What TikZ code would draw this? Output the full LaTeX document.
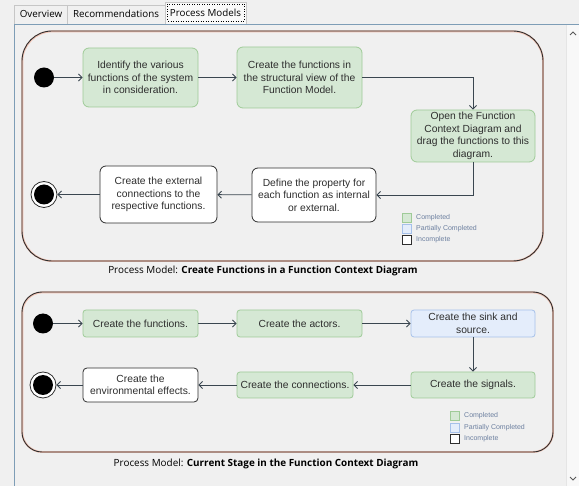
\documentclass[tikz,border=0pt]{standalone}
\usepackage{fontspec}
\setmainfont{Liberation Sans}
\newfontfamily\uifont{Open Sans}
\usetikzlibrary{arrows.meta}
\definecolor{bg}{HTML}{F0F0F0}
\definecolor{gfill}{HTML}{D5E8D4}
\definecolor{gline}{HTML}{9FCB98}
\definecolor{bfill}{HTML}{E4EDFB}
\definecolor{bline}{HTML}{A6C1EA}
\definecolor{dark}{HTML}{2E2E2E}
\definecolor{halo}{HTML}{F2C2B2}
\definecolor{arr}{HTML}{3A4650}
\definecolor{legtxt}{HTML}{6D80A0}
\definecolor{panel}{HTML}{7E9DB6}
\begin{document}
\begin{tikzpicture}[x=1pt,y=-1pt,
  boxtext/.style={font=\fontsize{10.3}{12.6}\selectfont, text=dark, align=center, inner sep=0pt},
  gbox/.style={boxtext, draw=gline, fill=gfill, line width=0.8pt, rounded corners=6pt},
  gboxs/.style={boxtext, draw=gline, fill=gfill, line width=0.8pt, rounded corners=3pt},
  bbox/.style={boxtext, draw=bline, fill=bfill, line width=0.8pt, rounded corners=3pt},
  wbox/.style={boxtext, draw=dark, fill=white, line width=0.8pt, rounded corners=6pt},
  startdot/.style={circle, fill=black, minimum size=20pt, inner sep=0pt},
  enddot/.style={circle, draw=dark, fill=white, line width=0.8pt, minimum size=26pt, inner sep=0pt,
     path picture={\fill[black] (path picture bounding box.center) circle (10pt);}},
  conn/.style={draw=arr, line width=0.9pt, -{Straight Barb[length=3.5pt,width=7pt]}},
  frame/.style={line width=0.9pt, draw=dark},
  framehalo/.style={line width=1.9pt, draw=halo},
  legsq/.style={minimum size=9pt, inner sep=0pt, line width=0.8pt},
  legtext/.style={font=\fontsize{7}{8}\selectfont, text=legtxt, anchor=west, inner sep=0pt},
  captext/.style={font=\uifont\fontsize{9.9}{12}\selectfont, text=black, inner sep=0pt},
  tabtext/.style={font=\uifont\fontsize{9.8}{11}\selectfont, text=black, inner sep=0pt}
]
\useasboundingbox (0,0) rectangle (579,486);
\fill[bg] (0,0) rectangle (579,486);

% tabs
\draw[gray!45, line width=0.6pt] (14,24) -- (14,5) -- (67,5) -- (67,24);
\draw[gray!45, line width=0.6pt] (67,5) -- (165,5) -- (165,24);
\fill[white!60!bg] (166,2) rectangle (246,24);
\draw[gray!45, line width=0.6pt] (165,24) -- (165,2) -- (246,2) -- (246,24);
\node[tabtext] (tab1) at (41,13.5) {Overview};
\node[tabtext] (tab2) at (116,13.5) {Recommendations};
\node[tabtext] (tab3) at (205.5,12.5) {Process Models};
\draw[black, line width=0.5pt, dotted] (167.5,4) rectangle (244,21);

% panel
\draw[panel, line width=0.7pt] (14,486) -- (14,24.5) -- (579,24.5);
\fill[white!55!bg] (566,25) rectangle (579,486);
\draw[gray!20, line width=0.5pt] (566,25) -- (566,486);
\draw[gray!70!black, line width=0.8pt] (570,35) -- (573,32) -- (576,35);
\draw[gray!70!black, line width=0.8pt] (570,477) -- (573,480) -- (576,477);

% top frame
\draw[framehalo, rounded corners=30pt] (22.3,31.4) rectangle (543,261);
\draw[frame, rounded corners=30pt] (22,31) rectangle (543,261);

% top process
\node[startdot] (s1) at (44,77.5) {};
\node[gbox, minimum width=115pt, minimum height=59pt] (b1) at (140.5,77.5) {Identify the various\\functions of the system\\in consideration.};
\node[gbox, minimum width=125pt, minimum height=61pt] (b2) at (299.5,77.5) {Create the functions in\\the structural view of the\\Function Model.};
\node[gbox, minimum width=124pt, minimum height=52pt] (b3) at (473,136) {Open the Function\\Context Diagram and\\drag the functions to this\\diagram.};
\node[wbox, minimum width=124pt, minimum height=54pt] (b4) at (314,195) {Define the property for\\each function as internal\\or external.};
\node[wbox, minimum width=117pt, minimum height=57pt] (b5) at (158.5,194.5) {Create the external\\connections to the\\respective functions.};
\node[enddot] (e1) at (44,194.5) {};

\draw[conn] (s1) -- (b1);
\draw[conn] (b1) -- (b2);
\draw[conn] (b2.east) -| (b3.north);
\draw[conn] (b3.south) |- (b4.east);
\draw[conn] (b4) -- (b5);
\draw[conn] (b5) -- (e1);

% top legend
\node[legsq, draw=gline, fill=gfill] (l1a) at (407,217.5) {};
\node[legsq, draw=bline, fill=bfill] (l1b) at (407,228.5) {};
\node[legsq, draw=dark, fill=white] (l1c) at (407,239.5) {};
\node[legtext] (t1a) at (416,217.5) {Completed};
\node[legtext] (t1b) at (416,228.5) {Partially Completed};
\node[legtext] (t1c) at (416,239.5) {Incomplete};

\node[captext] (cap1) at (263,271) {Process Model: \textbf{Create Functions in a Function Context Diagram}};

% bottom frame
\draw[framehalo, rounded corners=20pt] (22.3,292.4) rectangle (553,452);
\draw[frame, rounded corners=20pt] (22,292) rectangle (553,452);

\node[startdot] (s2) at (43,323.5) {};
\node[gboxs, minimum width=115pt, minimum height=27pt] (c1) at (140.5,323.5) {Create the functions.};
\node[gboxs, minimum width=125pt, minimum height=27pt] (c2) at (299.5,323.5) {Create the actors.};
\node[bbox, minimum width=124pt, minimum height=27pt] (c3) at (473,323.5) {Create the sink and\\source.};
\node[gboxs, minimum width=124pt, minimum height=26pt] (c4) at (473,385) {Create the signals.};
\node[gboxs, minimum width=116pt, minimum height=26pt] (c5) at (295,385) {Create the connections.};
\node[wbox, rounded corners=4pt, minimum width=115pt, minimum height=34pt] (c6) at (140.5,385) {Create the\\environmental effects.};
\node[enddot] (e2) at (43,385) {};

\draw[conn] (s2) -- (c1);
\draw[conn] (c1) -- (c2);
\draw[conn] (c2) -- (c3);
\draw[conn] (c3) -- (c4);
\draw[conn] (c4) -- (c5);
\draw[conn] (c5) -- (c6);
\draw[conn] (c6) -- (e2);

% bottom legend
\node[legsq, draw=gline, fill=gfill] (l2a) at (454.5,416) {};
\node[legsq, draw=bline, fill=bfill] (l2b) at (454.5,427.5) {};
\node[legsq, draw=dark, fill=white] (l2c) at (454.5,438.5) {};
\node[legtext] (t2a) at (464,416) {Completed};
\node[legtext] (t2b) at (464,427.5) {Partially Completed};
\node[legtext] (t2c) at (464,438.5) {Incomplete};

\node[captext] (cap2) at (266,464) {Process Model: \textbf{Current Stage in the Function Context Diagram}};
\end{tikzpicture}
\end{document}
